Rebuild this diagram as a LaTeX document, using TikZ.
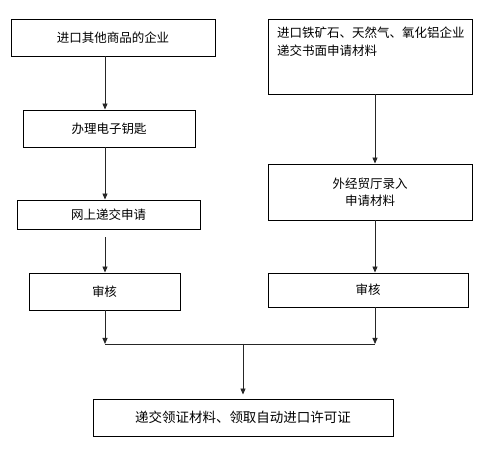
\documentclass[tikz,border=0pt]{standalone}
\usepackage{fontspec}
\setmainfont{Noto Sans CJK SC}
\usetikzlibrary{arrows.meta}
\begin{document}
\begin{tikzpicture}[x=1pt,y=-1pt,
  box/.style={draw=black,line width=0.9pt,inner sep=0pt,font=\fontsize{12.5}{17}\selectfont},
  arr/.style={draw=black!85,line width=0.9pt,-{Triangle[length=6pt,width=5pt]}},
  ln/.style={draw=black!85,line width=0.9pt}]
\useasboundingbox (0,0) rectangle (480,449);
\fill[white] (0,0) rectangle (480,449);
% left column
\node[box,minimum width=204pt,minimum height=37pt] (a1) at (113,37.5) {进口其他商品的企业};
\node[box,minimum width=172pt,minimum height=37pt] (a2) at (109,128.5) {办理电子钥匙};
\node[box,minimum width=183pt,minimum height=29pt] (a3) at (108.5,214.5) {网上递交申请};
\node[box,minimum width=151pt,minimum height=37pt] (a4) at (104.5,291.5) {审核};
% right column
\node[box,minimum width=204pt,minimum height=75pt] (b1) at (370,56.5) {};
\node[font=\fontsize{12.5}{18}\selectfont,anchor=north west,align=left,inner sep=0pt] (b1t) at (277,27) {进口铁矿石、天然气、氧化铝企业\\递交书面申请材料};
\node[box,minimum width=204pt,minimum height=56pt,align=center] (b2) at (370,192) {外经贸厅录入\\申请材料};
\node[box,minimum width=200pt,minimum height=34pt] (b3) at (368,290) {审核};
% bottom
\node[box,minimum width=300pt,minimum height=37pt,font=\fontsize{13.5}{17}\selectfont] (c) at (243,417.5) {递交领证材料、领取自动进口许可证};
% connectors
\coordinate (jl) at (105,344);
\coordinate (jr) at (375,344);
\coordinate (jm) at (243,344);
\draw[arr] (a1.south -| 105,0) -- (a2.north -| 105,0);
\draw[arr] (a2.south -| 105,0) -- (a3.north -| 105,0);
\draw[arr] ([yshift=-8pt]a3.south -| 105,0) -- (a4.north -| 105,0);
\draw[arr] (b1.south -| 375,0) -- (b2.north -| 375,0);
\draw[arr] (b2.south -| 375,0) -- (b3.north -| 375,0);
\draw[arr] (a4.south -| 105,0) -- (jl);
\draw[arr] (b3.south -| 375,0) -- (jr);
\draw[ln] (jl) -- (jr);
\draw[arr] (jm) -- ([yshift=4pt]c.north);
\end{tikzpicture}
\end{document}
